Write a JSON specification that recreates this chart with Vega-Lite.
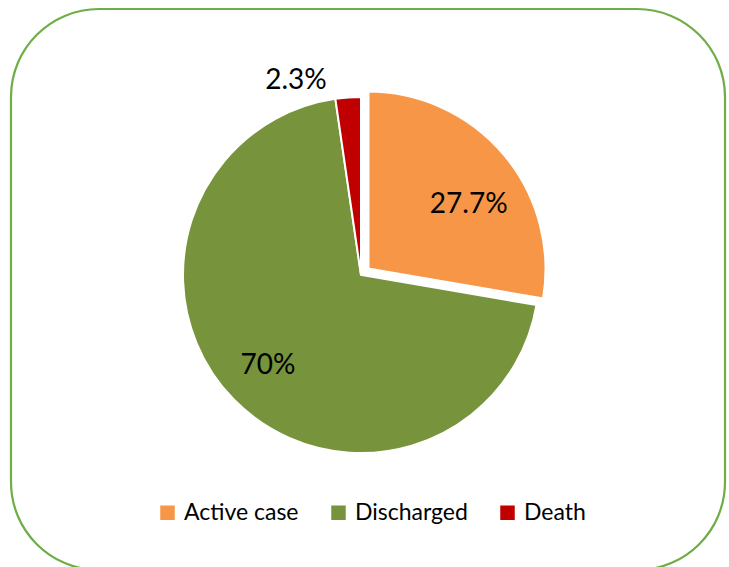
{
  "$schema": "https://vega.github.io/schema/vega-lite/v6.json",
  "autosize": {"type": "none"},
  "width": 714,
  "height": 561,
  "padding": {"left": 11, "top": 9, "right": 4, "bottom": -3},
  "background": "white",
  "view": {"stroke": "#6FAD47", "strokeWidth": 2.2, "cornerRadius": 88, "fill": "white"},
  "config": {
    "font": "Lato"
  },
  "data": {
    "values": [
      {"status": "Active case", "share": 27.7, "label": "27.7%", "idx": 1},
      {"status": "Discharged", "share": 70.0, "label": "70%", "idx": 2},
      {"status": "Death", "share": 2.3, "label": "2.3%", "idx": 3}
    ]
  },
  "encoding": {
    "theta": {"field": "share", "type": "quantitative", "stack": true},
    "order": {"field": "idx", "type": "quantitative"}
  },
  "layer": [
    {
      "mark": {"type": "arc", "outerRadius": 178, "stroke": "white", "strokeWidth": 2, "xOffset": -7, "yOffset": -14.5},
      "encoding": {
        "color": {
          "field": "status", "type": "nominal",
          "sort": ["Active case", "Discharged", "Death"],
          "scale": {"domain": ["Active case", "Discharged", "Death"], "range": ["#F79646", "#77933C", "#C00000"]},
          "legend": {
            "title": null, "orient": "none", "direction": "horizontal",
            "legendX": 145, "legendY": 492, "padding": 0,
            "symbolType": "square", "symbolSize": 210, "symbolStrokeWidth": 0,
            "labelFont": "Lato", "labelFontSize": 23, "labelColor": "black",
            "labelOffset": 5, "columnPadding": 28
          }
        },
        "opacity": {"condition": {"test": "datum.status === 'Active case'", "value": 0}, "value": 1}
      }
    },
    {
      "mark": {"type": "arc", "outerRadius": 178, "stroke": "white", "strokeWidth": 3, "xOffset": 0, "yOffset": -20.5},
      "encoding": {
        "color": {"field": "status", "type": "nominal", "sort": ["Active case", "Discharged", "Death"]},
        "opacity": {"condition": {"test": "datum.status === 'Active case'", "value": 1}, "value": 0}
      }
    },
    {
      "mark": {"type": "text", "radius": 130, "fontSize": 28, "font": "Lato", "color": "black", "xOffset": -7, "yOffset": -14.5},
      "encoding": {
        "text": {"field": "label"},
        "opacity": {"condition": {"test": "datum.status === 'Discharged'", "value": 1}, "value": 0}
      }
    },
    {
      "mark": {"type": "text", "radius": 120, "fontSize": 28, "font": "Lato", "color": "black", "xOffset": 0, "yOffset": -20.5, "dx": 9, "dy": 13},
      "encoding": {
        "text": {"field": "label"},
        "opacity": {"condition": {"test": "datum.status === 'Active case'", "value": 1}, "value": 0}
      }
    },
    {
      "mark": {"type": "text", "radius": 195, "fontSize": 28, "font": "Lato", "color": "black", "xOffset": -7, "yOffset": -14.5, "dx": -51},
      "encoding": {
        "text": {"field": "label"},
        "opacity": {"condition": {"test": "datum.status === 'Death'", "value": 1}, "value": 0}
      }
    }
  ]
}
